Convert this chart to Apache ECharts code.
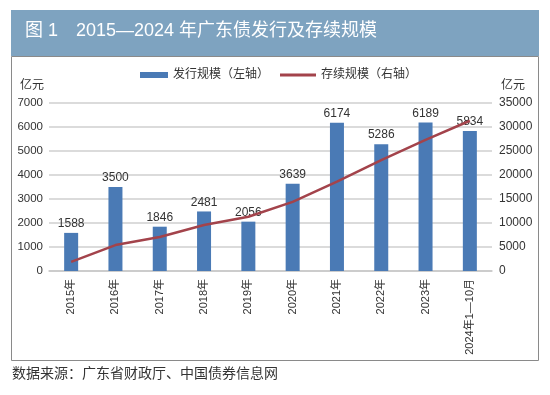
<!DOCTYPE html>
<html><head><meta charset="utf-8">
<script src="https://cdn.jsdelivr.net/npm/echarts@6/dist/echarts.min.js"></script>
<style>html,body{margin:0;padding:0;background:#fff}#c{width:550px;height:395px}</style>
</head><body><div id="c"></div>
<script>
const categories = ['2015年','2016年','2017年','2018年','2019年','2020年','2021年','2022年','2023年','2024年1—10月'];
const issuance = [1588, 3500, 1846, 2481, 2056, 3639, 6174, 5286, 6189, 5834];
const outstanding = [1900, 5400, 7100, 9600, 11300, 14400, 18600, 23100, 27300, 31300];
const titleText = '图 1　2015—2024 年广东债发行及存续规模';
const sourceText = '数据来源：广东省财政厅、中国债券信息网';
const FF = '"Liberation Sans", "Noto Sans CJK SC", sans-serif';
const chart = echarts.init(document.getElementById('c'));
chart.setOption({
  animation: false,
  backgroundColor: '#fff',
  textStyle: {fontFamily: FF},
  graphic: [
    {type:'rect', shape:{x:11, y:10, width:528, height:46}, style:{fill:'#7ea3c0'}, z:-1},
    {type:'rect', shape:{x:11.5, y:56.5, width:527, height:304}, style:{fill:'none', stroke:'#8a8a8a', lineWidth:1}, z:-1},
    {type:'text', left:25, top:22, style:{text:titleText, fill:'#fff', font:'18px ' + FF}},
    {type:'text', left:20, top:80, style:{text:'亿元', fill:'#333', font:'12px ' + FF}},
    {type:'text', left:501, top:80, style:{text:'亿元', fill:'#333', font:'12px ' + FF}},
    {type:'text', left:12, top:367, style:{text:sourceText, fill:'#333', font:'14px ' + FF}}
  ],
  legend: [
    {top: 64, left: 135, textStyle: {fontSize: 12, color: '#333'},
     itemWidth: 28, itemHeight: 6, itemGap: 2,
     data: [{name:'发行规模（左轴）', icon:'rect'}]},
    {top: 64, left: 275, textStyle: {fontSize: 12, color: '#333'},
     itemWidth: 36, itemHeight: 3, itemGap: 2,
     data: [{name:'存续规模（右轴）', icon:'rect'}]}
  ],
  grid: {left: 49, right: 58, top: 103, bottom: 124},
  xAxis: {
    type: 'category', data: categories,
    axisLine: {lineStyle: {color: '#c8c8c8', width: 1.5}},
    axisTick: {show: false},
    axisLabel: {rotate: 90, fontSize: 11, color: '#333', margin: 8, interval: 0}
  },
  yAxis: [
    {type:'value', min:0, max:7000, interval:1000,
     axisLine:{show:false}, axisTick:{show:false},
     axisLabel:{fontSize:11.5, color:'#333', margin:6, formatter: v => String(v)},
     splitLine:{lineStyle:{color:'#cfcfcf', width:1.5}}},
    {type:'value', min:0, max:35000, interval:5000,
     axisLine:{show:false}, axisTick:{show:false},
     axisLabel:{fontSize:12, color:'#333', margin:7, formatter: v => String(v)},
     splitLine:{show:false}}
  ],
  series: [
    {name:'发行规模（左轴）', type:'bar', data: issuance, barWidth: 14,
     itemStyle:{color:'#4a7ab5'},
     label:{show:true, position:'top', distance:3, fontSize:12, color:'#333'}},
    {name:'存续规模（右轴）', type:'line', yAxisIndex:1, data: outstanding,
     symbol:'none', lineStyle:{color:'#a3434b', width:2.5}, itemStyle:{color:'#a3434b'}}
  ]
});
</script></body></html>
